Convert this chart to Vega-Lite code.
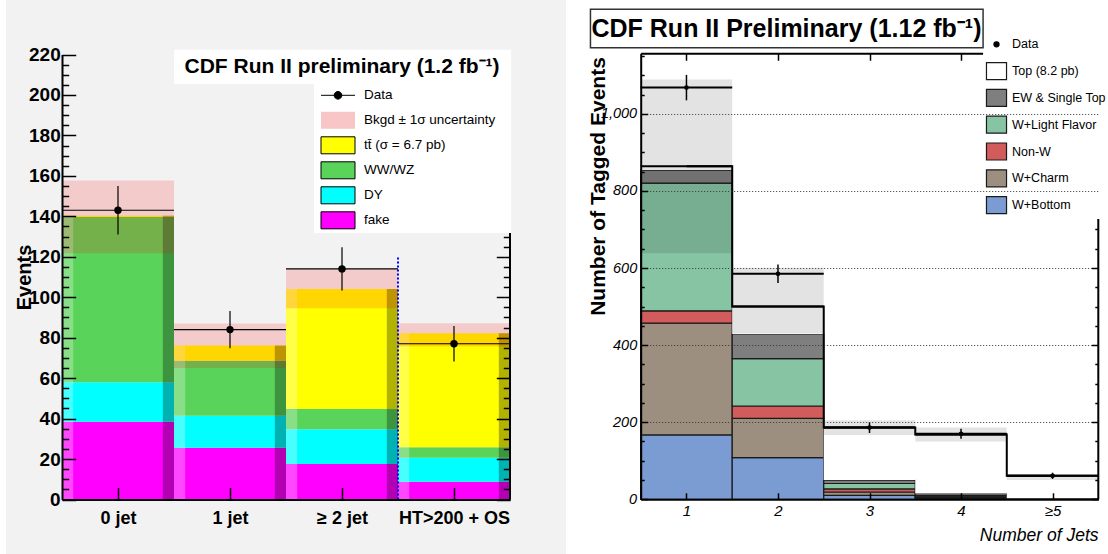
{
  "$schema": "https://vega.github.io/schema/vega-lite/v6.json",
  "width": 1108,
  "height": 554,
  "autosize": {"type": "none"},
  "padding": 0,
  "background": "white",
  "config": {"view": {"stroke": null}, "font": "Liberation Sans"},
  "datasets": {
    "leftStack": [
      {"bin": 0, "comp": "fake", "n": 38.5}, {"bin": 0, "comp": "DY", "n": 19.5}, {"bin": 0, "comp": "WW/WZ", "n": 81.7}, {"bin": 0, "comp": "tt\u0304 (\u03c3 = 6.7 pb)", "n": 0.6},
      {"bin": 1, "comp": "fake", "n": 25.6}, {"bin": 1, "comp": "DY", "n": 15.8}, {"bin": 1, "comp": "WW/WZ", "n": 27.2}, {"bin": 1, "comp": "tt\u0304 (\u03c3 = 6.7 pb)", "n": 7.5},
      {"bin": 2, "comp": "fake", "n": 17.6}, {"bin": 2, "comp": "DY", "n": 17.1}, {"bin": 2, "comp": "WW/WZ", "n": 10.0}, {"bin": 2, "comp": "tt\u0304 (\u03c3 = 6.7 pb)", "n": 59.4},
      {"bin": 3, "comp": "fake", "n": 8.8}, {"bin": 3, "comp": "DY", "n": 11.9}, {"bin": 3, "comp": "WW/WZ", "n": 5.1}, {"bin": 3, "comp": "tt\u0304 (\u03c3 = 6.7 pb)", "n": 56.4}
    ],
    "leftBand": [
      {"bin": 0, "low": 121.7, "high": 157.7}, {"bin": 1, "low": 65.0, "high": 87.0},
      {"bin": 2, "low": 94.5, "high": 113.8}, {"bin": 3, "low": 75.6, "high": 87.1}
    ],
    "leftData": [
      {"bin": 0, "events": 143, "lo": 131, "hi": 155}, {"bin": 1, "events": 84, "lo": 74.8, "hi": 93.2},
      {"bin": 2, "events": 114, "lo": 103.3, "hi": 124.7}, {"bin": 3, "events": 77, "lo": 68.2, "hi": 85.8}
    ],
    "rightStack": [
      {"jets": 1, "comp": "W+Bottom", "n": 167}, {"jets": 1, "comp": "W+Charm", "n": 290}, {"jets": 1, "comp": "Non-W", "n": 32}, {"jets": 1, "comp": "W+Light Flavor", "n": 331}, {"jets": 1, "comp": "EW & Single Top", "n": 34}, {"jets": 1, "comp": "Top (8.2 pb)", "n": 10},
      {"jets": 2, "comp": "W+Bottom", "n": 108}, {"jets": 2, "comp": "W+Charm", "n": 102}, {"jets": 2, "comp": "Non-W", "n": 32}, {"jets": 2, "comp": "W+Light Flavor", "n": 123}, {"jets": 2, "comp": "EW & Single Top", "n": 64}, {"jets": 2, "comp": "Top (8.2 pb)", "n": 71},
      {"jets": 3, "comp": "W+Bottom", "n": 10}, {"jets": 3, "comp": "W+Charm", "n": 9}, {"jets": 3, "comp": "Non-W", "n": 8}, {"jets": 3, "comp": "W+Light Flavor", "n": 14}, {"jets": 3, "comp": "EW & Single Top", "n": 9}, {"jets": 3, "comp": "Top (8.2 pb)", "n": 136},
      {"jets": 4, "comp": "W+Bottom", "n": 2}, {"jets": 4, "comp": "W+Charm", "n": 3}, {"jets": 4, "comp": "Non-W", "n": 3}, {"jets": 4, "comp": "W+Light Flavor", "n": 2}, {"jets": 4, "comp": "EW & Single Top", "n": 5}, {"jets": 4, "comp": "Top (8.2 pb)", "n": 153},
      {"jets": 5, "comp": "W+Bottom", "n": 0.5}, {"jets": 5, "comp": "W+Charm", "n": 0.5}, {"jets": 5, "comp": "Non-W", "n": 0.5}, {"jets": 5, "comp": "W+Light Flavor", "n": 0.5}, {"jets": 5, "comp": "EW & Single Top", "n": 1}, {"jets": 5, "comp": "Top (8.2 pb)", "n": 58}
    ],
    "rightBand": [
      {"jets": 1, "low": 638, "high": 1089}, {"jets": 2, "low": 430, "high": 601},
      {"jets": 3, "low": 167, "high": 205}, {"jets": 4, "low": 150, "high": 186}, {"jets": 5, "low": 50, "high": 64}
    ],
    "rightData": [
      {"jets": 1, "events": 1068, "lo": 1035, "hi": 1101}, {"jets": 2, "events": 585, "lo": 561, "hi": 609},
      {"jets": 3, "events": 186, "lo": 172, "hi": 200}, {"jets": 4, "events": 170, "lo": 157, "hi": 183},
      {"jets": 5, "events": 61, "lo": 53, "hi": 69}
    ]
  },
  "layer": [
    {
      "data": {"values": [{"x0": -0.5, "x1": 4.5, "y0": -28, "y1": 248}]},
      "mark": {"type": "rect", "fill": "#f2f2f2"},
      "encoding": {
        "x": {"field": "x0", "type": "quantitative", "scale": {"domain": [0, 4], "range": [62, 510], "nice": false, "zero": false}, "axis": null},
        "x2": {"field": "x1"},
        "y": {"field": "y0", "type": "quantitative", "scale": {"domain": [0, 220], "range": [499.5, 54.5], "nice": false, "zero": false}, "axis": null},
        "y2": {"field": "y1"}
      }
    },
    {
      "data": {"name": "leftStack"},
      "transform": [
        {"calculate": "indexof(['fake', 'DY', 'WW/WZ', 'tt\u0304 (\u03c3 = 6.7 pb)'], datum.comp)", "as": "k"},
        {"stack": "n", "groupby": ["bin"], "sort": [{"field": "k", "order": "ascending"}], "as": ["y0", "y1"]},
        {"calculate": "datum.bin + 1", "as": "hi"}
      ],
      "mark": {"type": "rect"},
      "encoding": {
        "x": {"field": "bin", "type": "quantitative", "scale": {"domain": [0, 4], "range": [62, 510], "nice": false, "zero": false}, "axis": {
          "orient": "bottom", "offset": -54.5, "values": [0.5, 1.5, 2.5, 3.5],
          "labelExpr": "['0 jet', '1 jet', '\u2265 2 jet', 'HT>200 + OS'][floor(datum.value)]",
          "tickSize": -12, "tickWidth": 1.5, "tickColor": "black",
          "domainColor": "black", "domainWidth": 2,
          "labelFont": "Liberation Sans", "labelFontWeight": "bold", "labelFontSize": 18, "labelColor": "black",
          "labelPadding": 22, "labelFlush": false, "labelOverlap": false, "title": null, "grid": false, "zindex": 1}},
        "x2": {"field": "hi"},
        "y": {"field": "y0", "type": "quantitative", "scale": {"domain": [0, 220], "range": [499.5, 54.5], "nice": false, "zero": false}, "axis": {
          "orient": "left", "offset": -62, "values": [0, 20, 40, 60, 80, 100, 120, 140, 160, 180, 200, 220],
          "tickSize": -13.7, "tickWidth": 1.5, "tickColor": "black",
          "domainColor": "black", "domainWidth": 2,
          "labelFont": "Liberation Sans", "labelFontWeight": "bold", "labelFontSize": 19, "labelColor": "black",
          "labelPadding": 15.5, "labelFlush": false, "labelOverlap": false,
          "title": "Events", "titleFont": "Liberation Sans", "titleFontWeight": "bold", "titleFontSize": 20, "titleColor": "black",
          "titleX": -38, "titleY": 277, "titleAngle": 270, "titleAlign": "center", "titleBaseline": "middle",
          "grid": false, "zindex": 1}},
        "y2": {"field": "y1"},
        "fill": {"field": "comp", "type": "nominal",
          "scale": {
            "domain": ["Data", "Bkgd \u00b1 1\u03c3 uncertainty", "tt\u0304 (\u03c3 = 6.7 pb)", "WW/WZ", "DY", "fake"],
            "range": ["black", "#f8c6c6", "#ffff00", "#5ad35a", "#00ffff", "#ff00ff"]},
          "legend": null}
      }
    },
    {
      "data": {"name": "leftStack"},
      "transform": [
        {"calculate": "indexof(['fake', 'DY', 'WW/WZ', 'tt\u0304 (\u03c3 = 6.7 pb)'], datum.comp)", "as": "k"},
        {"stack": "n", "groupby": ["bin"], "sort": [{"field": "k", "order": "ascending"}], "as": ["y0", "y1"]},
        {"calculate": "datum.bin + 0.1", "as": "edge"}
      ],
      "mark": {"type": "rect", "fill": "white", "fillOpacity": 0.28},
      "encoding": {
        "x": {"field": "bin", "type": "quantitative", "scale": {"domain": [0, 4], "range": [62, 510], "nice": false, "zero": false}, "axis": null},
        "x2": {"field": "edge"},
        "y": {"field": "y0", "type": "quantitative", "scale": {"domain": [0, 220], "range": [499.5, 54.5], "nice": false, "zero": false}, "axis": null},
        "y2": {"field": "y1"}
      }
    },
    {
      "data": {"name": "leftStack"},
      "transform": [
        {"calculate": "indexof(['fake', 'DY', 'WW/WZ', 'tt\u0304 (\u03c3 = 6.7 pb)'], datum.comp)", "as": "k"},
        {"stack": "n", "groupby": ["bin"], "sort": [{"field": "k", "order": "ascending"}], "as": ["y0", "y1"]},
        {"calculate": "datum.bin + 0.9", "as": "edge"},
        {"calculate": "datum.bin + 1", "as": "hi"}
      ],
      "mark": {"type": "rect", "fill": "black", "fillOpacity": 0.3},
      "encoding": {
        "x": {"field": "edge", "type": "quantitative", "scale": {"domain": [0, 4], "range": [62, 510], "nice": false, "zero": false}, "axis": null},
        "x2": {"field": "hi"},
        "y": {"field": "y0", "type": "quantitative", "scale": {"domain": [0, 220], "range": [499.5, 54.5], "nice": false, "zero": false}, "axis": null},
        "y2": {"field": "y1"}
      }
    },
    {
      "data": {"name": "leftBand"},
      "transform": [{"calculate": "datum.bin + 1", "as": "hi"}],
      "mark": {"type": "rect", "fill": "#ff0000", "fillOpacity": 0.16},
      "encoding": {
        "x": {"field": "bin", "type": "quantitative", "scale": {"domain": [0, 4], "range": [62, 510], "nice": false, "zero": false}, "axis": {
          "orient": "top", "offset": -54.5, "values": [0.5, 1.5, 2.5, 3.5],
          "tickSize": -13, "tickWidth": 1.5, "tickColor": "black", "labels": false,
          "domainColor": "black", "domainWidth": 2, "title": null, "grid": false, "zindex": 0}},
        "x2": {"field": "hi"},
        "y": {"field": "low", "type": "quantitative", "scale": {"domain": [0, 220], "range": [499.5, 54.5], "nice": false, "zero": false}, "axis": {
          "orient": "left", "offset": -62,
          "values": [5, 10, 15, 25, 30, 35, 45, 50, 55, 65, 70, 75, 85, 90, 95, 105, 110, 115, 125, 130, 135, 145, 150, 155, 165, 170, 175, 185, 190, 195, 205, 210, 215],
          "tickSize": -6.7, "tickWidth": 1.5, "tickColor": "black", "domain": false, "labels": false,
          "title": null, "grid": false, "zindex": 1}},
        "y2": {"field": "high"}
      }
    },
    {
      "data": {"values": [{"edge": 3, "base": 0, "top": 120}]},
      "mark": {"type": "rule", "stroke": "#0000ff", "strokeWidth": 2, "strokeDash": [2, 2]},
      "encoding": {
        "x": {"field": "edge", "type": "quantitative", "scale": {"domain": [0, 4], "range": [62, 510], "nice": false, "zero": false}, "axis": null},
        "y": {"field": "base", "type": "quantitative", "scale": {"domain": [0, 220], "range": [499.5, 54.5], "nice": false, "zero": false}, "axis": null},
        "y2": {"field": "top"}
      }
    },
    {
      "data": {"name": "leftData"},
      "transform": [{"calculate": "datum.bin + 1", "as": "right"}],
      "mark": {"type": "rule", "stroke": "black", "strokeWidth": 1.2},
      "encoding": {
        "x": {"field": "bin", "type": "quantitative", "scale": {"domain": [0, 4], "range": [62, 510], "nice": false, "zero": false}, "axis": null},
        "x2": {"field": "right"},
        "y": {"field": "events", "type": "quantitative", "scale": {"domain": [0, 220], "range": [499.5, 54.5], "nice": false, "zero": false}, "axis": {
          "orient": "right", "offset": -598, "values": [0, 20, 40, 60, 80, 100, 120],
          "tickSize": -13.7, "tickWidth": 1.5, "tickColor": "black", "domain": false, "labels": false,
          "title": null, "grid": false, "zindex": 1}}
      }
    },
    {
      "data": {"name": "leftData"},
      "transform": [{"calculate": "datum.bin + 0.5", "as": "mid"}],
      "mark": {"type": "rule", "stroke": "black", "strokeWidth": 1.2},
      "encoding": {
        "x": {"field": "mid", "type": "quantitative", "scale": {"domain": [0, 4], "range": [62, 510], "nice": false, "zero": false}, "axis": null},
        "y": {"field": "lo", "type": "quantitative", "scale": {"domain": [0, 220], "range": [499.5, 54.5], "nice": false, "zero": false}, "axis": {
          "orient": "right", "offset": -598,
          "values": [5, 10, 15, 25, 30, 35, 45, 50, 55, 65, 70, 75, 85, 90, 95, 105, 110, 115, 125, 130],
          "tickSize": -6.7, "tickWidth": 1.5, "tickColor": "black", "domain": false, "labels": false,
          "title": null, "grid": false, "zindex": 1}},
        "y2": {"field": "hi"}
      }
    },
    {
      "data": {"name": "leftData"},
      "transform": [{"calculate": "datum.bin + 0.5", "as": "mid"}],
      "mark": {"type": "point", "filled": true, "color": "black", "size": 55, "opacity": 1},
      "encoding": {
        "x": {"field": "mid", "type": "quantitative", "scale": {"domain": [0, 4], "range": [62, 510], "nice": false, "zero": false}, "axis": null},
        "y": {"field": "events", "type": "quantitative", "scale": {"domain": [0, 220], "range": [499.5, 54.5], "nice": false, "zero": false}, "axis": null}
      }
    },
    {
      "data": {"values": [{"edge": 4, "base": 0, "top": 131.8}]},
      "mark": {"type": "rule", "stroke": "black", "strokeWidth": 2},
      "encoding": {
        "x": {"field": "edge", "type": "quantitative", "scale": {"domain": [0, 4], "range": [62, 510], "nice": false, "zero": false}, "axis": null},
        "y": {"field": "base", "type": "quantitative", "scale": {"domain": [0, 220], "range": [499.5, 54.5], "nice": false, "zero": false}, "axis": null},
        "y2": {"field": "top"}
      }
    },
    {
      "data": {"values": [{"x0": 2.25, "x1": 4.01, "y0": 131.8, "y1": 205.6}, {"x0": 1.0, "x1": 4.01, "y0": 205.4, "y1": 222.4}]},
      "mark": {"type": "rect", "fill": "white"},
      "encoding": {
        "x": {"field": "x0", "type": "quantitative", "scale": {"domain": [0, 4], "range": [62, 510], "nice": false, "zero": false}, "axis": null},
        "x2": {"field": "x1"},
        "y": {"field": "y0", "type": "quantitative", "scale": {"domain": [0, 220], "range": [499.5, 54.5], "nice": false, "zero": false}, "axis": null},
        "y2": {"field": "y1"}
      }
    },
    {
      "data": {"values": [{"label": "CDF Run II preliminary (1.2 fb\u207b\u00b9)", "cx": 2.5, "cy": 213.8}]},
      "mark": {"type": "text", "font": "Liberation Sans", "fontWeight": "bold", "fontSize": 21, "align": "center", "baseline": "middle", "color": "black"},
      "encoding": {
        "x": {"field": "cx", "type": "quantitative", "scale": {"domain": [0, 4], "range": [62, 510], "nice": false, "zero": false}, "axis": null},
        "y": {"field": "cy", "type": "quantitative", "scale": {"domain": [0, 220], "range": [499.5, 54.5], "nice": false, "zero": false}, "axis": null},
        "text": {"field": "label", "type": "nominal"}
      }
    },
    {
      "data": {"name": "leftData"},
      "transform": [{"filter": "datum.events < 0"}, {"calculate": "'Data'", "as": "comp"}],
      "mark": {"type": "point", "filled": true, "opacity": 1, "strokeWidth": 1},
      "encoding": {
        "x": {"field": "bin", "type": "quantitative", "scale": {"domain": [0, 4], "range": [62, 510], "nice": false, "zero": false}, "axis": null},
        "y": {"field": "events", "type": "quantitative", "scale": {"domain": [0, 220], "range": [499.5, 54.5], "nice": false, "zero": false}, "axis": null},
        "fill": {"field": "comp", "type": "nominal",
          "scale": {
            "domain": ["Data", "Bkgd \u00b1 1\u03c3 uncertainty", "tt\u0304 (\u03c3 = 6.7 pb)", "WW/WZ", "DY", "fake"],
            "range": ["black", "#f8c6c6", "#ffff00", "#5ad35a", "#00ffff", "#ff00ff"]},
          "legend": {
            "orient": "none", "legendX": 316, "legendY": 81.3, "title": null, "padding": 5,
            "symbolSize": 289, "symbolStrokeWidth": 1, "symbolOffset": 8, "labelOffset": 17, "rowPadding": 3,
            "labelFont": "Liberation Sans", "labelFontSize": 13.5, "labelColor": "black", "labelLimit": 300, "zindex": 2}},
        "shape": {"field": "comp", "type": "nominal",
          "scale": {
            "domain": ["Data", "Bkgd \u00b1 1\u03c3 uncertainty", "tt\u0304 (\u03c3 = 6.7 pb)", "WW/WZ", "DY", "fake"],
            "range": ["M0,-1M0,1M-2,0H2M-0.45,0A0.45,0.45,0,1,0,0.45,0A0.45,0.45,0,1,0,-0.45,0Z", "M-2,-1H2V1H-2Z", "M-2,-1H2V1H-2Z", "M-2,-1H2V1H-2Z", "M-2,-1H2V1H-2Z", "M-2,-1H2V1H-2Z"]}},
        "stroke": {"field": "comp", "type": "nominal",
          "scale": {
            "domain": ["Data", "Bkgd \u00b1 1\u03c3 uncertainty", "tt\u0304 (\u03c3 = 6.7 pb)", "WW/WZ", "DY", "fake"],
            "range": ["black", "rgba(0,0,0,0)", "black", "black", "black", "black"]}}
      }
    },
    {
      "data": {"name": "rightStack"},
      "transform": [
        {"calculate": "indexof(['W+Bottom', 'W+Charm', 'Non-W', 'W+Light Flavor', 'EW & Single Top', 'Top (8.2 pb)'], datum.comp)", "as": "k"},
        {"stack": "n", "groupby": ["jets"], "sort": [{"field": "k", "order": "ascending"}], "as": ["y0", "y1"]},
        {"calculate": "datum.jets - 0.5", "as": "lo"},
        {"calculate": "datum.jets + 0.5", "as": "hi"},
        {"filter": "datum.k < 5"}
      ],
      "mark": {"type": "rect", "stroke": "#1a1a1a", "strokeWidth": 1.2},
      "encoding": {
        "x": {"field": "lo", "type": "quantitative",
          "scale": {"domain": [0.5, 5.5], "range": [640.7, 1098.3], "nice": false, "zero": false},
          "axis": {
            "orient": "bottom", "offset": -54.7, "values": [1, 2, 3, 4, 5],
            "labelExpr": "datum.value == 5 ? '\u22655' : datum.label",
            "tickSize": -6.5, "tickWidth": 1.5, "tickColor": "black",
            "domainColor": "black", "domainWidth": 2,
            "labelFont": "Liberation Sans", "labelFontStyle": "italic", "labelFontSize": 15, "labelColor": "black",
            "labelPadding": 10.5, "labelFlush": false, "labelOverlap": false,
            "title": "Number of Jets", "titleFont": "Liberation Sans", "titleFontStyle": "italic", "titleFontWeight": "normal",
            "titleFontSize": 17.5, "titleColor": "black", "titleX": 1098, "titleY": 41, "titleAlign": "right", "titleBaseline": "alphabetic",
            "grid": false, "zindex": 1}},
        "x2": {"field": "hi"},
        "y": {"field": "y0", "type": "quantitative",
          "scale": {"domain": [0, 1157], "range": [499.3, 53.3], "nice": false, "zero": false},
          "axis": {
            "orient": "left", "offset": -640.7, "values": [0, 200, 400, 600, 800, 1000],
            "tickSize": -7, "tickWidth": 1.5, "tickColor": "black",
            "domainColor": "black", "domainWidth": 2,
            "grid": true, "gridDash": [1, 2], "gridColor": "#333333", "gridWidth": 1,
            "labelFont": "Liberation Sans", "labelFontStyle": "italic", "labelFontSize": 14.5, "labelColor": "black",
            "labelPadding": 11, "labelFlush": false, "labelOverlap": false,
            "title": "Number of Tagged Events", "titleFont": "Liberation Sans", "titleFontWeight": "bold", "titleFontSize": 21, "titleColor": "black",
            "titleX": -42, "titleY": 186, "titleAngle": 270, "titleAlign": "center", "titleBaseline": "middle",
            "zindex": 1}},
        "y2": {"field": "y1"},
        "fill": {"field": "comp", "type": "nominal",
          "scale": {
            "domain": ["Data", "Top (8.2 pb)", "EW & Single Top", "W+Light Flavor", "Non-W", "W+Charm", "W+Bottom"],
            "range": ["black", "#ffffff", "#7f7f7f", "#86c4a4", "#d25b5b", "#9d8f80", "#7b9bd3"]},
          "legend": null}
      }
    },
    {
      "data": {"name": "rightStack"},
      "transform": [
        {"calculate": "indexof(['W+Bottom', 'W+Charm', 'Non-W', 'W+Light Flavor', 'EW & Single Top', 'Top (8.2 pb)'], datum.comp)", "as": "k"},
        {"stack": "n", "groupby": ["jets"], "sort": [{"field": "k", "order": "ascending"}], "as": ["y0", "y1"]},
        {"calculate": "datum.jets - 0.5", "as": "lo"},
        {"calculate": "datum.jets + 0.5", "as": "hi"},
        {"filter": "datum.k == 5"}
      ],
      "mark": {"type": "rect", "fill": "white"},
      "encoding": {
        "x": {"field": "lo", "type": "quantitative", "scale": {"domain": [0.5, 5.5], "range": [640.7, 1098.3], "nice": false, "zero": false}, "axis": {
          "orient": "top", "offset": -53.3, "values": [1, 2, 3, 4, 5],
          "tickSize": -7, "tickWidth": 1.5, "tickColor": "black", "labels": false,
          "domainColor": "black", "domainWidth": 2, "title": null, "grid": false, "zindex": 0}},
        "x2": {"field": "hi"},
        "y": {"field": "y0", "type": "quantitative", "scale": {"domain": [0, 1157], "range": [499.3, 53.3], "nice": false, "zero": false}, "axis": {
          "orient": "left", "offset": -640.7,
          "values": [50, 100, 150, 250, 300, 350, 450, 500, 550, 650, 700, 750, 850, 900, 950, 1050, 1100, 1150],
          "tickSize": -3.5, "tickWidth": 1.5, "tickColor": "black", "domain": false, "labels": false,
          "title": null, "grid": false, "zindex": 1}},
        "y2": {"field": "y1"}
      }
    },
    {
      "data": {"name": "rightBand"},
      "transform": [{"calculate": "datum.jets - 0.5", "as": "lo"}, {"calculate": "datum.jets + 0.5", "as": "hi"}],
      "mark": {"type": "rect", "fill": "black", "fillOpacity": 0.11},
      "encoding": {
        "x": {"field": "lo", "type": "quantitative", "scale": {"domain": [0.5, 5.5], "range": [640.7, 1098.3], "nice": false, "zero": false}, "axis": null},
        "x2": {"field": "hi"},
        "y": {"field": "low", "type": "quantitative", "scale": {"domain": [0, 1157], "range": [499.3, 53.3], "nice": false, "zero": false}, "axis": {
          "orient": "right", "offset": -9.7, "values": [0, 200, 400, 600],
          "tickSize": -7, "tickWidth": 1.5, "tickColor": "black", "domain": false, "labels": false,
          "title": null, "grid": false, "zindex": 1}},
        "y2": {"field": "high"}
      }
    },
    {
      "data": {"name": "rightStack"},
      "transform": [
        {"calculate": "indexof(['W+Bottom', 'W+Charm', 'Non-W', 'W+Light Flavor', 'EW & Single Top', 'Top (8.2 pb)'], datum.comp)", "as": "k"},
        {"stack": "n", "groupby": ["jets"], "sort": [{"field": "k", "order": "ascending"}], "as": ["y0", "y1"]},
        {"calculate": "datum.jets - 0.5", "as": "lo"},
        {"calculate": "datum.jets + 0.5", "as": "hi"},
        {"filter": "datum.k == 5"}
      ],
      "mark": {"type": "rule", "stroke": "black", "strokeWidth": 2},
      "encoding": {
        "x": {"field": "lo", "type": "quantitative", "scale": {"domain": [0.5, 5.5], "range": [640.7, 1098.3], "nice": false, "zero": false}, "axis": null},
        "x2": {"field": "hi"},
        "y": {"field": "y1", "type": "quantitative", "scale": {"domain": [0, 1157], "range": [499.3, 53.3], "nice": false, "zero": false}, "axis": null}
      }
    },
    {
      "data": {"name": "rightStack"},
      "transform": [
        {"calculate": "indexof(['W+Bottom', 'W+Charm', 'Non-W', 'W+Light Flavor', 'EW & Single Top', 'Top (8.2 pb)'], datum.comp)", "as": "k"},
        {"stack": "n", "groupby": ["jets"], "sort": [{"field": "k", "order": "ascending"}], "as": ["y0", "y1"]},
        {"filter": "datum.k == 5"}
      ],
      "mark": {"type": "line", "interpolate": "step", "stroke": "black", "strokeWidth": 2},
      "encoding": {
        "x": {"field": "jets", "type": "quantitative", "scale": {"domain": [0.5, 5.5], "range": [640.7, 1098.3], "nice": false, "zero": false}, "axis": null},
        "y": {"field": "y1", "type": "quantitative", "scale": {"domain": [0, 1157], "range": [499.3, 53.3], "nice": false, "zero": false}, "axis": null}
      }
    },
    {
      "data": {"name": "rightData"},
      "transform": [{"calculate": "datum.jets - 0.5", "as": "left"}, {"calculate": "datum.jets + 0.5", "as": "right"}],
      "mark": {"type": "rule", "stroke": "black", "strokeWidth": 2},
      "encoding": {
        "x": {"field": "left", "type": "quantitative", "scale": {"domain": [0.5, 5.5], "range": [640.7, 1098.3], "nice": false, "zero": false}, "axis": null},
        "x2": {"field": "right"},
        "y": {"field": "events", "type": "quantitative", "scale": {"domain": [0, 1157], "range": [499.3, 53.3], "nice": false, "zero": false}, "axis": {
          "orient": "right", "offset": -9.7,
          "values": [50, 100, 150, 250, 300, 350, 450, 500, 550, 650, 700],
          "tickSize": -3.5, "tickWidth": 1.5, "tickColor": "black", "domain": false, "labels": false,
          "title": null, "grid": false, "zindex": 1}}
      }
    },
    {
      "data": {"name": "rightData"},
      "mark": {"type": "rule", "stroke": "black", "strokeWidth": 1.5},
      "encoding": {
        "x": {"field": "jets", "type": "quantitative", "scale": {"domain": [0.5, 5.5], "range": [640.7, 1098.3], "nice": false, "zero": false}, "axis": null},
        "y": {"field": "lo", "type": "quantitative", "scale": {"domain": [0, 1157], "range": [499.3, 53.3], "nice": false, "zero": false}, "axis": null},
        "y2": {"field": "hi"}
      }
    },
    {
      "data": {"name": "rightData"},
      "mark": {"type": "point", "filled": true, "color": "black", "size": 22, "opacity": 1},
      "encoding": {
        "x": {"field": "jets", "type": "quantitative", "scale": {"domain": [0.5, 5.5], "range": [640.7, 1098.3], "nice": false, "zero": false}, "axis": null},
        "y": {"field": "events", "type": "quantitative", "scale": {"domain": [0, 1157], "range": [499.3, 53.3], "nice": false, "zero": false}, "axis": null}
      }
    },
    {
      "data": {"values": [{"edge": 5.5, "base": 0, "top": 727}]},
      "mark": {"type": "rule", "stroke": "black", "strokeWidth": 2},
      "encoding": {
        "x": {"field": "edge", "type": "quantitative", "scale": {"domain": [0.5, 5.5], "range": [640.7, 1098.3], "nice": false, "zero": false}, "axis": null},
        "y": {"field": "base", "type": "quantitative", "scale": {"domain": [0, 1157], "range": [499.3, 53.3], "nice": false, "zero": false}, "axis": null},
        "y2": {"field": "top"}
      }
    },
    {
      "data": {"values": [{"x0": 4.241, "x1": 5.62, "y0": 727, "y1": 1218}]},
      "mark": {"type": "rect", "fill": "white"},
      "encoding": {
        "x": {"field": "x0", "type": "quantitative", "scale": {"domain": [0.5, 5.5], "range": [640.7, 1098.3], "nice": false, "zero": false}, "axis": null},
        "x2": {"field": "x1"},
        "y": {"field": "y0", "type": "quantitative", "scale": {"domain": [0, 1157], "range": [499.3, 53.3], "nice": false, "zero": false}, "axis": null},
        "y2": {"field": "y1"}
      }
    },
    {
      "data": {"values": [{"x0": -0.049, "x1": 4.241, "y0": 1171.5, "y1": 1271}]},
      "mark": {"type": "rect", "fill": "white", "stroke": "#333333", "strokeWidth": 1.5},
      "encoding": {
        "x": {"field": "x0", "type": "quantitative", "scale": {"domain": [0.5, 5.5], "range": [640.7, 1098.3], "nice": false, "zero": false}, "axis": null},
        "x2": {"field": "x1"},
        "y": {"field": "y0", "type": "quantitative", "scale": {"domain": [0, 1157], "range": [499.3, 53.3], "nice": false, "zero": false}, "axis": null},
        "y2": {"field": "y1"}
      }
    },
    {
      "data": {"values": [{"label": "CDF Run II Preliminary (1.12 fb\u207b\u00b9)", "cx": 2.093, "cy": 1220}]},
      "mark": {"type": "text", "font": "Liberation Sans", "fontWeight": "bold", "fontSize": 25, "align": "center", "baseline": "middle", "color": "black"},
      "encoding": {
        "x": {"field": "cx", "type": "quantitative", "scale": {"domain": [0.5, 5.5], "range": [640.7, 1098.3], "nice": false, "zero": false}, "axis": null},
        "y": {"field": "cy", "type": "quantitative", "scale": {"domain": [0, 1157], "range": [499.3, 53.3], "nice": false, "zero": false}, "axis": null},
        "text": {"field": "label", "type": "nominal"}
      }
    },
    {
      "data": {"name": "rightData"},
      "transform": [{"filter": "datum.events < 0"}, {"calculate": "'Data'", "as": "comp"}],
      "mark": {"type": "point", "filled": true, "opacity": 1, "strokeWidth": 1.2},
      "encoding": {
        "x": {"field": "jets", "type": "quantitative", "scale": {"domain": [0.5, 5.5], "range": [640.7, 1098.3], "nice": false, "zero": false}, "axis": null},
        "y": {"field": "events", "type": "quantitative", "scale": {"domain": [0, 1157], "range": [499.3, 53.3], "nice": false, "zero": false}, "axis": null},
        "fill": {"field": "comp", "type": "nominal",
          "scale": {
            "domain": ["Data", "Top (8.2 pb)", "EW & Single Top", "W+Light Flavor", "Non-W", "W+Charm", "W+Bottom"],
            "range": ["black", "#ffffff", "#7f7f7f", "#86c4a4", "#d25b5b", "#9d8f80", "#7b9bd3"]},
          "legend": {
            "orient": "none", "legendX": 982, "legendY": 30.8, "title": null, "padding": 4,
            "symbolSize": 289, "symbolStrokeWidth": 1.2, "symbolOffset": 1, "labelOffset": 6, "rowPadding": 3.8,
            "labelFont": "Liberation Sans", "labelFontSize": 12.5, "labelColor": "black", "labelLimit": 300, "zindex": 2}},
        "shape": {"field": "comp", "type": "nominal",
          "scale": {
            "domain": ["Data", "Top (8.2 pb)", "EW & Single Top", "W+Light Flavor", "Non-W", "W+Charm", "W+Bottom"],
            "range": ["M0,-1M0,1M-0.3,0A0.3,0.3,0,1,0,0.3,0A0.3,0.3,0,1,0,-0.3,0Z", "M-1.18,-1H1.18V1H-1.18Z", "M-1.18,-1H1.18V1H-1.18Z", "M-1.18,-1H1.18V1H-1.18Z", "M-1.18,-1H1.18V1H-1.18Z", "M-1.18,-1H1.18V1H-1.18Z", "M-1.18,-1H1.18V1H-1.18Z"]}},
        "stroke": {"field": "comp", "type": "nominal",
          "scale": {
            "domain": ["Data", "Top (8.2 pb)", "EW & Single Top", "W+Light Flavor", "Non-W", "W+Charm", "W+Bottom"],
            "range": ["black", "#1a1a1a", "#1a1a1a", "#1a1a1a", "#1a1a1a", "#1a1a1a", "#1a1a1a"]}}
      }
    }
  ],
  "resolve": {
    "scale": {"x": "independent", "y": "independent", "fill": "independent", "shape": "independent", "stroke": "independent"},
    "axis": {"x": "independent", "y": "independent"},
    "legend": {"fill": "independent", "shape": "independent", "stroke": "independent"}
  }
}
